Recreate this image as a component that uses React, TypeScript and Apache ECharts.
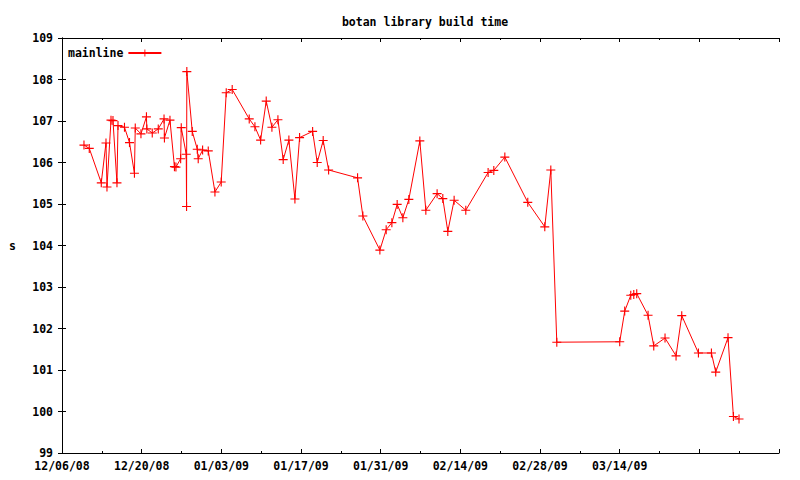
import React, { useEffect, useRef } from "react";
import * as echarts from "echarts";

const chartTitle = "botan library build time";
const seriesName = "mainline";
const yAxisName = "s";

const buildDates = [
  "2008-12-09 20:40", "2008-12-10 19:00", "2008-12-12 21:40", "2008-12-13 17:30", "2008-12-13 21:40",
  "2008-12-14 14:40", "2008-12-14 23:00", "2008-12-15 15:50", "2008-12-15 20:10", "2008-12-16 23:30",
  "2008-12-17 20:40", "2008-12-18 17:30", "2008-12-18 21:00", "2008-12-19 21:00", "2008-12-20 20:10",
  "2008-12-20 21:50", "2008-12-21 20:40", "2008-12-22 22:00", "2008-12-23 22:20", "2008-12-24 00:00",
  "2008-12-24 23:20", "2008-12-25 18:15", "2008-12-26 00:30", "2008-12-26 20:25", "2008-12-26 23:00",
  "2008-12-27 20:00", "2008-12-27 21:20", "2008-12-27 22:30", "2008-12-28 21:20", "2008-12-29 18:30",
  "2008-12-29 22:30", "2008-12-30 17:00", "2008-12-31 16:50", "2009-01-01 21:00", "2009-01-02 23:30",
  "2009-01-03 20:40", "2009-01-04 21:50", "2009-01-07 21:40", "2009-01-08 21:40", "2009-01-09 21:40",
  "2009-01-10 21:20", "2009-01-11 21:20", "2009-01-12 22:40", "2009-01-13 20:55", "2009-01-14 20:55",
  "2009-01-15 22:20", "2009-01-16 18:00", "2009-01-19 01:00", "2009-01-19 20:25", "2009-01-20 21:35",
  "2009-01-21 20:25", "2009-01-26 22:35", "2009-01-27 20:55", "2009-01-30 20:40", "2009-01-31 23:15",
  "2009-02-01 23:15", "2009-02-02 21:35", "2009-02-03 21:35", "2009-02-04 22:50", "2009-02-06 21:10",
  "2009-02-07 22:30", "2009-02-09 22:05", "2009-02-10 22:05", "2009-02-11 19:10", "2009-02-12 21:50",
  "2009-02-14 23:00", "2009-02-18 21:10", "2009-02-19 21:10", "2009-02-21 19:40", "2009-02-25 20:25",
  "2009-02-28 20:10", "2009-03-01 21:35", "2009-03-02 22:50", "2009-03-14 00:15", "2009-03-14 21:20",
  "2009-03-15 22:50", "2009-03-16 11:30", "2009-03-17 00:00", "2009-03-18 23:45", "2009-03-19 23:45",
  "2009-03-21 23:20", "2009-03-23 21:50", "2009-03-24 21:50", "2009-03-27 20:10", "2009-03-30 03:00",
  "2009-03-30 21:10", "2009-04-02 01:00", "2009-04-02 23:45", "2009-04-03 23:20",
];

const buildSeconds = [
  106.42, 106.34, 105.51, 106.47, 105.41,
  107.02, 107.01, 105.51, 106.89, 106.85,
  106.48, 105.74, 106.83, 106.69, 107.10,
  106.81, 106.71, 106.81, 107.05, 106.59,
  107.02, 105.90, 105.89, 106.09, 106.84,
  106.20, 104.94, 108.19, 106.75, 106.32,
  106.09, 106.30, 106.28, 105.29, 105.53,
  107.68, 107.76, 107.05, 106.86, 106.54,
  107.48, 106.85, 107.03, 106.07, 106.54,
  105.12, 106.60, 106.75, 106.00, 106.53,
  105.82, 105.63, 104.71, 103.89, 104.38,
  104.55, 104.99, 104.67, 105.11, 106.52,
  104.85, 105.25, 105.13, 104.34, 105.09,
  104.85, 105.76, 105.81, 106.13, 105.04,
  104.45, 105.82, 101.67, 101.68, 102.42,
  102.80, 102.82, 102.84, 102.32, 101.58,
  101.77, 101.34, 102.31, 101.41, 101.41,
  100.95, 101.78, 99.88, 99.82,
];

// x axis range: start date, span in days, tick step in days, last labelled tick (days)
const axisStartDate = "2008-12-06 00:00";
const axisSpanDays = 126;
const axisStepDays = 14;
const lastLabelledDay = 98;
const yMin = 99;
const yMax = 109;

const DAY = 86400000;
function parseUTC(s: string): number {
  const [d, t] = s.split(" ");
  const [y, m, dd] = d.split("-").map(Number);
  const [hh, mm] = t.split(":").map(Number);
  return Date.UTC(y, m - 1, dd, hh, mm);
}
const baseTs = parseUTC(axisStartDate);
const toDay = (s: string) => (parseUTC(s) - baseTs) / DAY;
const pad = (n: number) => (n < 10 ? "0" + n : "" + n);
function fmtDay(v: number): string {
  if (v > lastLabelledDay + 0.01) return "";
  const dt = new Date(baseTs + Math.round(v) * DAY);
  return pad(dt.getUTCMonth() + 1) + "/" + pad(dt.getUTCDate()) + "/" + pad(dt.getUTCFullYear() % 100);
}

const FONT = "DejaVu Sans Mono";
const plusPath = "path://M3.5,0h1v3.5h3.5v1h-3.5v3.5h-1v-3.5h-3.5v-1h3.5z";

export default function App() {
  const ref = useRef<HTMLDivElement>(null);
  useEffect(() => {
    if (!ref.current) return;
    const chart = echarts.init(ref.current, null, { renderer: "svg" });
    const data = buildDates.map((d, i) => [toDay(d), buildSeconds[i]]);
    const axisLine = { show: true, lineStyle: { color: "#000", width: 1 } };
    const labelStyle = { color: "#000", fontFamily: FONT, fontWeight: "bold" as const, fontSize: 11.5 };
    chart.setOption({
      animation: false,
      backgroundColor: "#fff",
      title: {
        text: chartTitle,
        left: 420,
        top: 11,
        textAlign: "center",
        textStyle: { ...labelStyle, fontSize: 11.5 },
      },
      legend: {
        data: [seriesName],
        left: 63,
        top: 42,
        align: "right",
        itemWidth: 33,
        itemHeight: 9,
        itemGap: 8,
        textStyle: labelStyle,
      },
      grid: { left: 62, top: 38, right: 21, bottom: 27, containLabel: false },
      xAxis: [
        {
          type: "value",
          min: 0,
          max: axisSpanDays,
          interval: axisStepDays,
          axisLine,
          splitLine: { show: false },
          axisTick: { show: true, inside: true, length: 4, lineStyle: { color: "#000" } },
          minorTick: { show: true, splitNumber: 2, length: 2, lineStyle: { color: "#000" } },
          axisLabel: { ...labelStyle, margin: 7, formatter: (v: number) => fmtDay(v), showMaxLabel: true, showMinLabel: true },
        },
        {
          type: "value",
          position: "top",
          min: 0,
          max: axisSpanDays,
          interval: axisStepDays,
          axisLine,
          splitLine: { show: false },
          axisTick: { show: true, inside: true, length: 4, lineStyle: { color: "#000" } },
          minorTick: { show: true, splitNumber: 2, length: 2, lineStyle: { color: "#000" } },
          axisLabel: { show: false },
        },
      ],
      yAxis: [
        {
          type: "value",
          min: yMin,
          max: yMax,
          interval: 1,
          name: yAxisName,
          nameLocation: "middle",
          nameGap: 46,
          nameRotate: 0,
          nameTextStyle: labelStyle,
          axisLine,
          splitLine: { show: false },
          axisTick: { show: true, inside: true, length: 4, lineStyle: { color: "#000" } },
          axisLabel: { ...labelStyle, margin: 9 },
        },
        {
          type: "value",
          position: "right",
          min: yMin,
          max: yMax,
          interval: 1,
          axisLine,
          splitLine: { show: false },
          axisTick: { show: true, inside: true, length: 4, lineStyle: { color: "#000" } },
          axisLabel: { show: false },
        },
      ],
      series: [
        {
          name: seriesName,
          type: "line",
          xAxisIndex: 0,
          yAxisIndex: 0,
          data,
          symbol: plusPath,
          symbolSize: 9,
          showAllSymbol: true,
          lineStyle: { color: "#ff0000", width: 1 },
          itemStyle: { color: "#ff0000" },
        },
      ],
    });
    return () => chart.dispose();
  }, []);
  return (
    <div
      ref={ref}
      style={{ position: "fixed", left: 0, top: 0, width: 800, height: 480, background: "#fff" }}
    />
  );
}
